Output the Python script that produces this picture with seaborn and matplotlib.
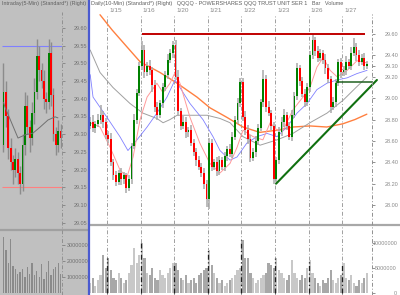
import numpy as np
import pandas as pd
import matplotlib
matplotlib.use("Agg")
import matplotlib.pyplot as plt
from matplotlib.lines import Line2D
from matplotlib.patches import Rectangle
from matplotlib.transforms import blended_transform_factory
import seaborn as sns

sns.set_style("white")
plt.rcParams['font.family'] = ['Liberation Sans', 'DejaVu Sans']

# ---------------- data: right panel (QQQQ bars) ----------------
day_labels = ["1/15", "1/16", "1/20", "1/21", "1/22", "1/23", "1/26", "1/27"]
first_open = 28.74
close_0114 = [28.78, 28.72, 28.76, 28.80, 28.84, 28.78, 28.66]
close_0115 = [28.62, 28.40, 28.28, 28.22, 28.30, 28.24, 28.28, 28.16, 28.24, 28.55, 28.80, 29.05, 29.30]
close_0116 = [29.45, 29.24, 29.30, 29.26, 29.12, 28.92, 28.84, 28.95, 29.10, 29.22, 29.36, 29.42, 29.50]
close_0120 = [29.20, 28.88, 28.74, 28.78, 28.68, 28.70, 28.58, 28.50, 28.42, 28.36, 28.30, 28.20, 28.06]
close_0121 = [28.58, 28.36, 28.40, 28.32, 28.42, 28.36, 28.46, 28.52, 28.48, 28.64, 28.80, 28.95, 29.15]
close_0122 = [28.82, 28.70, 28.62, 28.44, 28.50, 28.60, 28.72, 28.96, 29.18, 28.92, 28.86, 28.74, 28.24]
close_0123 = [28.42, 28.68, 28.78, 28.84, 28.74, 28.64, 28.84, 29.02, 29.28, 29.16, 29.04, 28.96, 29.10]
close_0126 = [29.40, 29.54, 29.44, 29.38, 29.42, 29.36, 29.28, 29.18, 28.92, 28.96, 29.14, 29.34, 29.24]
close_0127 = [29.26, 29.34, 29.30, 29.42, 29.48, 29.40, 29.34, 29.38, 29.30, 29.32]

hi_ext_cents = [4, 6, 3, 5, 10, 4, 3,
                3, 5, 3, 4, 3, 5, 3, 2, 4, 3, 5, 4, 4,
                8, 5, 4, 6, 3, 5, 4, 3, 4, 3, 5, 4, 3,
                4, 6, 3, 5, 4, 3, 5, 4, 3, 4, 3, 5, 3,
                5, 4, 3, 5, 4, 3, 4, 3, 5, 4, 3, 5, 4,
                4, 6, 5, 4, 3, 5, 4, 3, 8, 4, 5, 3, 4,
                3, 5, 4, 6, 3, 4, 5, 4, 5, 3, 4, 5, 4,
                4, 6, 3, 5, 4, 3, 5, 4, 3, 5, 4, 3, 4,
                4, 5, 3, 6, 8, 4, 5, 3, 4, 3]
lo_ext_cents = [3, 4, 5, 3, 4, 6, 4,
                4, 3, 5, 4, 3, 5, 4, 5, 3, 4, 3, 4, 3,
                4, 5, 3, 4, 6, 5, 4, 3, 4, 3, 4, 3, 4,
                3, 5, 4, 3, 5, 4, 3, 4, 5, 3, 4, 5, 8,
                10, 4, 3, 5, 4, 3, 4, 5, 3, 4, 3, 4, 3,
                3, 4, 5, 4, 3, 5, 4, 3, 4, 5, 3, 4, 4,
                2, 4, 3, 5, 4, 3, 4, 3, 4, 5, 3, 4, 3,
                4, 3, 5, 4, 3, 4, 5, 4, 6, 3, 4, 3, 5,
                3, 4, 3, 4, 3, 5, 4, 3, 4, 3]

vol_0114 = [2.0, 3.0, 1.5, 2.5, 3.5, 7.5, 5.0]
vol_0115 = [7.0, 4.5, 3.0, 2.5, 4.0, 3.0, 2.0, 2.5, 4.0, 5.5, 9.0, 6.0, 7.5]
vol_0116 = [10.0, 7.0, 4.0, 3.5, 5.0, 3.0, 2.5, 4.5, 3.5, 3.0, 4.0, 5.0, 6.0]
vol_0120 = [6.0, 4.5, 3.0, 2.5, 3.5, 2.0, 2.5, 3.0, 2.0, 3.5, 4.0, 4.5, 5.0]
vol_0121 = [8.5, 5.5, 4.0, 3.0, 2.0, 2.5, 1.5, 2.0, 2.5, 3.0, 3.5, 4.5, 5.0]
vol_0122 = [10.5, 7.0, 7.0, 4.0, 3.0, 2.0, 2.5, 3.0, 3.5, 4.0, 6.0, 5.5, 5.0]
vol_0123 = [7.0, 4.5, 4.0, 3.0, 2.5, 3.5, 6.5, 4.0, 3.0, 2.5, 3.5, 3.0, 5.0]
vol_0126 = [6.5, 4.0, 3.0, 2.0, 1.5, 2.5, 2.0, 3.0, 4.5, 2.5, 2.0, 3.0, 3.5]
vol_0127 = [6.0, 3.0, 2.5, 3.5, 2.0, 1.5, 2.5, 2.0, 3.0, 4.0]

# moving averages (bar index, price)
ma_orange_idx = [3.8, 8.4, 14.2, 19.3, 27.0, 33.6, 41.3, 46.3, 52.9, 59.1, 65.6, 72.2, 78.4, 85.0, 91.5, 97.7, 102.4, 107.0]
ma_orange_val = [29.78, 29.64, 29.48, 29.34, 29.24, 29.14, 29.01, 28.91, 28.82, 28.73, 28.68, 28.70, 28.73, 28.74, 28.73, 28.76, 28.80, 28.85]
ma_gray_idx = [0.0, 3.8, 8.8, 15.4, 20.4, 25.8, 28.2, 30.9, 33.6, 38.6, 45.2, 50.2, 54.1, 59.1, 65.7, 72.3, 78.4, 85.0, 91.6, 97.8, 102.4, 107.1]
ma_gray_val = [29.45, 29.24, 29.10, 28.95, 28.86, 28.81, 28.77, 28.80, 28.84, 28.84, 28.84, 28.81, 28.77, 28.64, 28.56, 28.61, 28.67, 28.77, 28.86, 28.98, 29.09, 29.20]
ma_blue_idx = [0.0, 1.1, 6.5, 11.5, 14.6, 18.1, 22.0, 25.8, 29.7, 32.8, 34.7, 38.6, 43.6, 47.5, 50.2, 54.1, 56.8, 60.6, 64.5, 68.4, 72.3, 76.1, 80.0, 83.9, 87.7, 91.6, 95.5, 99.4, 103.2, 107.1]
ma_blue_val = [29.22, 29.01, 28.82, 28.64, 28.51, 28.61, 28.73, 28.86, 29.01, 29.17, 29.10, 28.95, 28.80, 28.64, 28.51, 28.42, 28.45, 28.58, 28.64, 28.67, 28.64, 28.73, 28.86, 28.95, 29.08, 29.14, 29.17, 29.19, 29.23, 29.26]
ma_pink_idx = [0.0, 3.8, 7.7, 11.5, 14.2, 16.6, 19.3, 22.0, 25.8, 28.2, 30.9, 32.8, 34.7, 38.6, 42.4, 46.3, 50.2, 54.1, 56.8, 59.1, 63.0, 66.8, 69.6, 72.3, 74.6, 78.4, 82.3, 85.0, 87.7, 90.1, 92.8, 95.5, 99.4, 103.2, 107.1]
ma_pink_val = [28.77, 28.73, 28.54, 28.33, 28.26, 28.45, 28.80, 29.01, 29.14, 29.05, 29.14, 29.24, 29.14, 28.82, 28.58, 28.39, 28.30, 28.39, 28.54, 28.70, 28.64, 28.61, 28.77, 28.70, 28.70, 28.89, 29.01, 29.10, 29.29, 29.38, 29.26, 29.20, 29.26, 29.35, 29.33]

resist_idx = [20.0, 106.3]
resist_val = 29.60
trend_idx = [71.9, 110.9]
trend_val = [28.20, 29.17]
flat_idx = [95.0, 109.5]
flat_val = 29.155

right_ticks = [29.60, 29.40, 29.30, 29.20, 29.00, 28.80, 28.60, 28.40, 28.20, 28.00]
vol_ticks = [0, 5, 10]
vol_tick_labels = ["0", "5000000", "10000000"]

# ---------------- data: left panel (intraday 5-min) ----------------
left_open0 = 29.27
left_close = [29.42, 29.35, 29.26, 29.22, 29.20, 29.23, 29.19, 29.16, 29.27, 29.38, 29.32, 29.29, 29.36,
              29.42, 29.52, 29.48, 29.45, 29.40, 29.39, 29.53, 29.41, 29.30, 29.27, 29.31, 29.29]
left_hi_cents = [8, 3, 2, 3, 2, 3, 2, 2, 3, 4, 3, 2, 3, 4, 5, 3, 2, 3, 2, 4, 3, 2, 2, 3, 2]
left_lo_cents = [2, 3, 3, 2, 4, 2, 3, 3, 2, 3, 2, 4, 2, 3, 2, 3, 2, 3, 3, 2, 3, 2, 3, 2, 3]
left_vol = [3.5, 2.7, 1.9, 3.4, 1.7, 1.5, 1.2, 1.3, 1.5, 1.0, 1.6, 1.2, 1.9, 1.1, 1.4, 1.0, 1.8, 0.9, 1.3, 2.0, 1.1, 1.5, 1.6, 1.9, 1.2]
left_ma_idx = [0.0, 0.6, 6.1, 9.1, 12.4, 15.4, 18.7, 21.7, 22.9]
left_ma_val = [29.39, 29.377, 29.289, 29.298, 29.303, 29.320, 29.340, 29.349, 29.346]
left_hlines = [29.55, 29.15]
left_ticks = [29.60, 29.55, 29.50, 29.45, 29.40, 29.35, 29.30, 29.25, 29.20, 29.15, 29.10, 29.05]
left_vol_ticks = [1, 2, 3]
left_vol_labels = ["1000000", "2000000", "3000000"]

header_left = "Intraday(5-Min) (Standard*) (Right)"
header_right = "Daily(10-Min) (Standard*) (Right)   QQQQ - POWERSHARES QQQ TRUST UNIT SER 1   Bar   Volume"

# ---------------- assemble ----------------
closes = np.array(close_0114 + close_0115 + close_0116 + close_0120 + close_0121 +
                  close_0122 + close_0123 + close_0126 + close_0127)
vols = np.array(vol_0114 + vol_0115 + vol_0116 + vol_0120 + vol_0121 +
                vol_0122 + vol_0123 + vol_0126 + vol_0127)
opens = np.concatenate([[first_open], closes[:-1]])
highs = np.maximum(opens, closes) + np.array(hi_ext_cents) / 100
lows = np.minimum(opens, closes) - np.array(lo_ext_cents) / 100
idx = np.arange(len(closes))
df = pd.DataFrame(dict(i=idx, o=opens, c=closes, h=highs, l=lows, v=vols))
day_bounds = [6.5 + 13 * k for k in range(len(day_labels))]
day_first = [7 + 13 * k for k in range(len(day_labels))]

lc = np.array(left_close)
lo_ = np.concatenate([[left_open0], lc[:-1]])
lh = np.maximum(lo_, lc) + np.array(left_hi_cents) / 100
ll = np.minimum(lo_, lc) - np.array(left_lo_cents) / 100
li = np.arange(len(lc))

W, H = 400, 295
fig = plt.figure(figsize=(W / 100, H / 100), dpi=100)
fig.patch.set_facecolor('white')


def ax_px(x0, y0, x1, y1):
    return fig.add_axes([x0 / W, 1 - y1 / H, (x1 - x0) / W, (y1 - y0) / H])


GREEN, RED = '#008000', '#ff0000'
GRID = '#a0a0a0'
TXT = '#8a8a8a'
DASH = (0, (4, 2, 1, 2))
TICKFS = 4.0

# left grey background
fig.add_artist(Rectangle((0, 0), 88.5 / W, 1, transform=fig.transFigure,
                         facecolor='#c0c0c0', edgecolor='none', zorder=-5))

# ---------- left price panel ----------
axL = ax_px(0, 10, 62, 230)
axL.set_facecolor('none')
axL.set_xlim(-1.47, 24.6)
axL.set_ylim(29.029, 29.651)
for y in left_hlines:
    axL.hlines(y, -0.7, 24.6, color='#8080ff' if y > 29.3 else '#ff8080', lw=0.8, zorder=1)
axL.vlines(li, ll, lh, color='#8c8c8c', lw=1.0, zorder=2)
for k in range(len(lc)):
    col = GREEN if lc[k] >= lo_[k] else RED
    b = min(lo_[k], lc[k]); hgt = max(abs(lc[k] - lo_[k]), 0.004)
    axL.bar(li[k], hgt, bottom=b, width=0.75, color=col, lw=0, zorder=3)
sns.lineplot(x=left_ma_idx, y=left_ma_val, ax=axL, color='#707070', lw=0.7, legend=False, zorder=4)
axL.set_yticks(left_ticks)
axL.set_yticklabels([f"{t:.2f}" for t in left_ticks])
axL.yaxis.tick_right()
axL.tick_params(axis='y', length=2, width=0.6, color='#808080', pad=6.6,
                labelsize=TICKFS, labelcolor='#707070')
axL.set_xticks([])
for s in axL.spines.values():
    s.set_visible(False)

# ---------- left volume ----------
axLV = ax_px(0, 231, 62, 295)
axLV.set_facecolor('none')
axLV.set_xlim(-1.47, 24.6)
axLV.set_ylim(-0.125, 3.875)
axLV.bar(li, left_vol, width=0.55, color='#8a8a8a', lw=0)
axLV.set_yticks(left_vol_ticks)
axLV.set_yticklabels(left_vol_labels)
axLV.yaxis.tick_right()
axLV.tick_params(axis='y', length=2, width=0.6, color='#808080', pad=1.6,
                 labelsize=3.9, labelcolor='#707070')
axLV.set_xticks([])
for s in axLV.spines.values():
    s.set_visible(False)

# ---------- right price panel ----------
ax = ax_px(89, 14, 372, 224)
ax.set_facecolor('white')
ax.set_xlim(-0.46, 109.0)
ax.set_ylim(27.823, 29.787)
for b in day_bounds:
    ax.axvline(b, color=GRID, lw=0.7, ls=DASH, zorder=0)
sns.lineplot(x=ma_orange_idx, y=ma_orange_val, ax=ax, color='#ff8040', lw=1.0, legend=False, zorder=1)
sns.lineplot(x=ma_gray_idx, y=ma_gray_val, ax=ax, color='#a0a0a0', lw=0.7, legend=False, zorder=1)
sns.lineplot(x=ma_blue_idx, y=ma_blue_val, ax=ax, color='#8080ff', lw=0.6, legend=False, zorder=1)
sns.lineplot(x=ma_pink_idx, y=ma_pink_val, ax=ax, color='#ff9a9a', lw=0.7, legend=False, zorder=1)
ax.vlines(df.i, df.l, df.h, color='#a8a8a8', lw=1.1, zorder=2)
for r in df.itertuples():
    col = GREEN if r.c >= r.o else RED
    b = min(r.o, r.c); hgt = max(abs(r.c - r.o), 0.008)
    ax.bar(r.i, hgt, bottom=b, width=0.72, color=col, lw=0, zorder=3)
ax.hlines(resist_val, resist_idx[0], resist_idx[1], color='#c00000', lw=1.4, zorder=4)
ax.plot(trend_idx, trend_val, color='#107010', lw=1.5, zorder=4, clip_on=False)
ax.hlines(flat_val, flat_idx[0], flat_idx[1], color='#206020', lw=1.1, zorder=4, clip_on=False)
ax.set_yticks(right_ticks)
ax.set_yticklabels([f"{t:.2f}" for t in right_ticks])
ax.yaxis.tick_right()
ax.tick_params(axis='y', length=2, width=0.6, color='#808080', pad=7.0,
               labelsize=TICKFS, labelcolor=TXT)
ax.set_xticks([])
ax.set_xlabel(''); ax.set_ylabel('')
for s in ax.spines.values():
    s.set_visible(False)
tr = blended_transform_factory(ax.transData, ax.transAxes)
for b, lab in zip(day_bounds, day_labels):
    ax.text(b + 0.8, 1 + 3 / 210, lab, transform=tr, fontsize=4.6, color=TXT,
            ha='left', va='center', clip_on=False)

# ---------- right volume ----------
axV = ax_px(89, 225, 372, 295)
axV.set_facecolor('white')
axV.set_xlim(-0.46, 109.0)
axV.set_ylim(-0.375, 13.48)
for b in day_bounds:
    axV.axvline(b, color=GRID, lw=0.7, ls=DASH, zorder=0)
vcol = np.where(df.c >= df.o, '#c8c8c8', '#a8a8a8')
axV.bar(df.i, df.v, width=0.85, color=vcol, lw=0, zorder=1)
axV.vlines(day_bounds, 0, [vols[j] for j in day_first], color='#202020', lw=0.9, ls=DASH, zorder=2)
axV.set_yticks(vol_ticks)
axV.set_yticklabels(vol_tick_labels, ha='right')
axV.yaxis.tick_right()
axV.tick_params(axis='y', length=2, width=0.6, color='#808080', pad=16.0,
                labelsize=3.9, labelcolor=TXT)
axV.set_xticks([])
for s in axV.spines.values():
    s.set_visible(False)

# ---------- frame lines ----------
fig.add_artist(Line2D([89 / W, 1], [1 - 224.5 / H] * 2, color='#a8a8a8', lw=1.6))
fig.add_artist(Line2D([0, 88 / W], [1 - 230 / H] * 2, color='#a0a0a0', lw=1.6))
fig.add_artist(Line2D([372 / W] * 2, [0, 1 - 14 / H], color='#909090', lw=0.7, ls=DASH))
fig.add_artist(Line2D([62 / W] * 2, [0, 1 - 12 / H], color='#909090', lw=0.7, ls=DASH))
fig.add_artist(Line2D([89 / W] * 2, [0, 1], color='#4a5ad0', lw=1.6))

# ---------- header texts ----------
fig.text(1.5 / W, 1 - 3.5 / H, header_left, fontsize=3.85, color='#606060', va='center', ha='left')
fig.text(91 / W, 1 - 3.5 / H, header_right, fontsize=3.95, color='#606060', va='center', ha='left')

fig.savefig("out.png", dpi=100)
